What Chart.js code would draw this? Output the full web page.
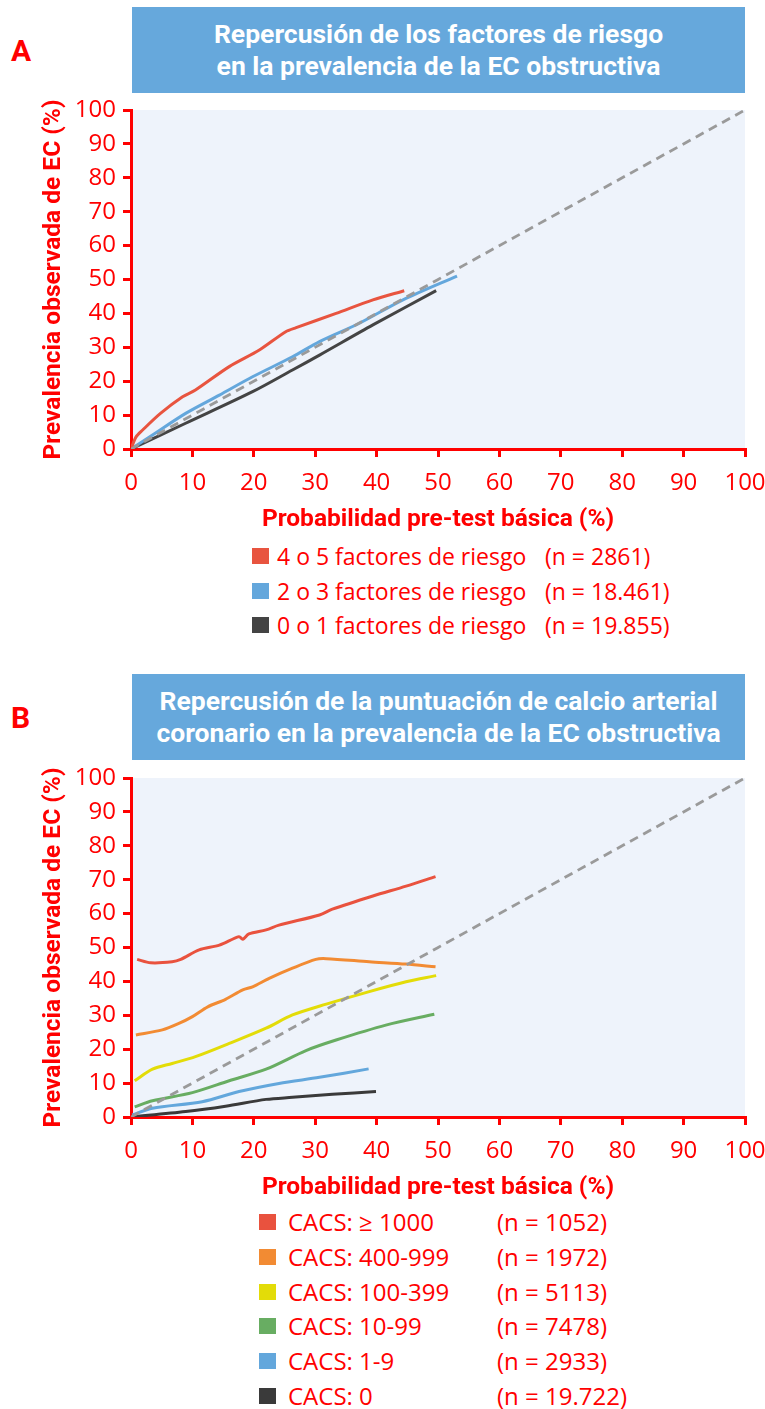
<!DOCTYPE html>
<html>
<head>
<meta charset="utf-8">
<script src="https://cdn.jsdelivr.net/npm/chart.js@4.4.0/dist/chart.umd.min.js"></script>
<style>
  body { margin: 0; width: 765px; height: 1409px; background: #fff; overflow: hidden; position: relative; font-family: "Open Sans", sans-serif; }
  .letra { position: absolute; left: 11px; color: #f00; font: bold 30px Roboto, sans-serif; }
  .caja { position: absolute; left: 132px; width: 613px; height: 86px; background: #66a8dc; color: #fff;
          font: bold 26.5px Roboto, sans-serif; text-align: center; line-height: 32px; box-sizing: border-box; padding-top: 11px; }
  .caja span { display: inline-block; white-space: nowrap; }
  canvas { position: absolute; left: 0; }
  .fila { position: absolute; height: 30px; line-height: 30px; color: #f00; white-space: nowrap; }
  .fila i { position: absolute; left: 0; top: 7px; width: 17px; height: 16px; }
  .fila b { font-weight: normal; position: absolute; top: 0; }
</style>
</head>
<body>
<div class="letra" style="top:33px">A</div>
<div class="caja" style="top:7px"><span>Repercusión de los factores de riesgo</span><br><span>en la prevalencia de la EC obstructiva</span></div>
<canvas id="graficaA" width="765" height="440" style="top:95px"></canvas>
<div id="leyendaA"></div>

<div class="letra" style="top:700px">B</div>
<div class="caja" style="top:674px"><span>Repercusión de la puntuación de calcio arterial</span><br><span>coronario en la prevalencia de la EC obstructiva</span></div>
<canvas id="graficaB" width="765" height="440" style="top:763px"></canvas>
<div id="leyendaB"></div>

<script>
// Panel A: factores de riesgo
const riesgo45X = [0, 0.8, 1.9, 4.8, 8.4, 10.5, 16, 20.9, 25.2, 26.9, 33.4, 39.4, 44.5];
const riesgo45Y = [0, 3.5, 5.6, 10.5, 15.4, 17.4, 24.3, 29.2, 34.6, 35.8, 40, 44, 46.7];
const riesgo23X = [0, 3.5, 8.9, 14.4, 19.8, 26.3, 30.7, 37.2, 44.3, 53.1];
const riesgo23Y = [0, 4.1, 10.5, 15.9, 21.3, 27.2, 31.7, 37.1, 44, 51];
const riesgo01X = [0, 8.9, 19.8, 26.3, 30.7, 39.4, 49.7];
const riesgo01Y = [0, 7.6, 16.9, 23.3, 27.7, 36.6, 46.7];
const etiquetasA = ["4 o 5 factores de riesgo", "2 o 3 factores de riesgo", "0 o 1 factores de riesgo"];
const nA = ["(n = 2861)", "(n = 18.461)", "(n = 19.855)"];

// Panel B: CACS
const cacs1000X = [1, 3.2, 6.7, 8.1, 11.1, 14.4, 17.6, 18.2, 19.2, 22, 24.1, 30.7, 32.8, 39.4, 44.8, 49.6];
const cacs1000Y = [46.5, 45.5, 45.8, 46.5, 49.3, 50.7, 53.2, 52.4, 54, 55.2, 56.6, 59.6, 61.3, 65.2, 68.1, 70.9];
const cacs400X = [0.8, 5.1, 7.8, 10, 12.5, 15.4, 18.2, 19.8, 22.5, 26.3, 30.1, 31.8, 38.8, 44.8, 49.6];
const cacs400Y = [24.2, 25.7, 27.6, 29.6, 32.5, 34.7, 37.5, 38.4, 40.9, 43.9, 46.5, 46.7, 45.8, 45.1, 44.3];
const cacs100X = [0.6, 3.5, 6.7, 10.5, 16, 22, 26.3, 31.8, 38.8, 44.8, 49.7];
const cacs100Y = [10.7, 14.1, 15.8, 17.8, 21.7, 26.2, 30.1, 33.3, 37, 39.9, 41.7];
const cacs10X = [0.6, 3.5, 10, 16, 22, 28.5, 33.4, 41.5, 49.4];
const cacs10Y = [3, 4.8, 7.2, 10.7, 14.1, 19.6, 22.7, 27.1, 30.3];
const cacs1X = [0.2, 3.5, 11.6, 17.6, 24.1, 30.7, 38.7];
const cacs1Y = [0.6, 2.6, 4.5, 7.5, 9.9, 11.7, 14.2];
const cacs0X = [0, 8.9, 15.4, 22, 26.3, 32.8, 39.9];
const cacs0Y = [0, 1.6, 3.2, 5.2, 5.8, 6.7, 7.5];
const etiquetasB = ["CACS: ≥ 1000", "CACS: 400-999", "CACS: 100-399", "CACS: 10-99", "CACS: 1-9", "CACS: 0"];
const nB = ["(n = 1052)", "(n = 1972)", "(n = 5113)", "(n = 7478)", "(n = 2933)", "(n = 19.722)"];

const diagonalX = [0, 100];
const diagonalY = [0, 100];

const rojo = "#f00";

const puntos = (xs, ys) => xs.map((x, i) => ({ x: x, y: ys[i] }));

const fondoPlot = {
  id: "fondoPlot",
  beforeDraw(chart) {
    const { ctx, chartArea: a } = chart;
    ctx.save();
    ctx.fillStyle = "#eef3fb";
    ctx.fillRect(a.left, a.top, a.right - a.left, a.bottom - a.top);
    ctx.restore();
  }
};

const ejeComun = (titulo) => ({
  type: "linear",
  min: 0,
  max: 100,
  ticks: { stepSize: 10, color: rojo, font: { family: "Open Sans", size: 24 }, autoSkip: false, maxRotation: 0 },
  grid: { drawOnChartArea: false, color: rojo, lineWidth: 3, tickLength: 8 },
  border: { color: rojo, width: 3 },
  title: { display: true, text: titulo, color: rojo, font: { family: "Roboto", weight: "bold", size: 24.5 } }
});

const hookGrafica = (id, series, colores) => {
  const ctx = document.getElementById(id);
  const datasets = [{
    data: puntos(diagonalX, diagonalY),
    borderColor: "#9a9a9a",
    borderWidth: 2.8,
    borderDash: [9, 6],
  }];
  series.forEach((s, i) => {
    datasets.push({ data: puntos(s[0], s[1]), borderColor: colores[i], borderWidth: 3 });
  });
  datasets.forEach(d => { d.showLine = true; d.pointRadius = 0; d.tension = 0.3; d.fill = false; });

  const x = ejeComun("Probabilidad pre-test básica (%)");
  x.ticks.padding = 12;
  x.title.padding = { top: 4, bottom: 0 };
  x.afterFit = (s) => { s.height = 86; s.paddingLeft = 0; s.paddingRight = 0; };
  const y = ejeComun("Prevalencia observada de EC (%)");
  y.ticks.padding = 7;
  y.title.padding = { top: 4, bottom: 0 };
  y.afterFit = (s) => { s.width = 96; s.paddingTop = 0; s.paddingBottom = 0; };

  return new Chart(ctx, {
    type: "scatter",
    data: { datasets },
    options: {
      responsive: false,
      animation: false,
      layout: { padding: { left: 35, right: 20, top: 15, bottom: 0 } },
      plugins: { legend: { display: false }, tooltip: { enabled: false } },
      scales: { x, y }
    },
    plugins: [fondoPlot]
  });
};

const hookLeyenda = (id, etiquetas, ns, colores, izq, arriba, paso, txtIzq, colN, tam) => {
  const cont = document.getElementById(id);
  etiquetas.forEach((t, i) => {
    const fila = document.createElement("div");
    fila.className = "fila";
    fila.style.left = izq + "px";
    fila.style.top = (arriba + i * paso) + "px";
    fila.style.fontSize = tam + "px";
    fila.innerHTML = `<i style="background:${colores[i]}"></i><b style="left:${txtIzq}px">${t}</b><b style="left:${colN}px">${ns[i]}</b>`;
    cont.appendChild(fila);
  });
};

const coloresA = ["#e8543f", "#64a7dc", "#444444"];
const coloresB = ["#e9523e", "#f28b33", "#e3dc08", "#68ad62", "#63a7dc", "#3a3a3a"];

hookGrafica("graficaA", [[riesgo45X, riesgo45Y], [riesgo23X, riesgo23Y], [riesgo01X, riesgo01Y]], coloresA);
hookGrafica("graficaB", [[cacs1000X, cacs1000Y], [cacs400X, cacs400Y], [cacs100X, cacs100Y],
                         [cacs10X, cacs10Y], [cacs1X, cacs1Y], [cacs0X, cacs0Y]], coloresB);

hookLeyenda("leyendaA", etiquetasA, nA, coloresA, 252, 541, 34.5, 25, 293, 23);
hookLeyenda("leyendaB", etiquetasB, nB, coloresB, 259, 1207, 34.8, 29, 238, 24);
</script>
</body>
</html>
